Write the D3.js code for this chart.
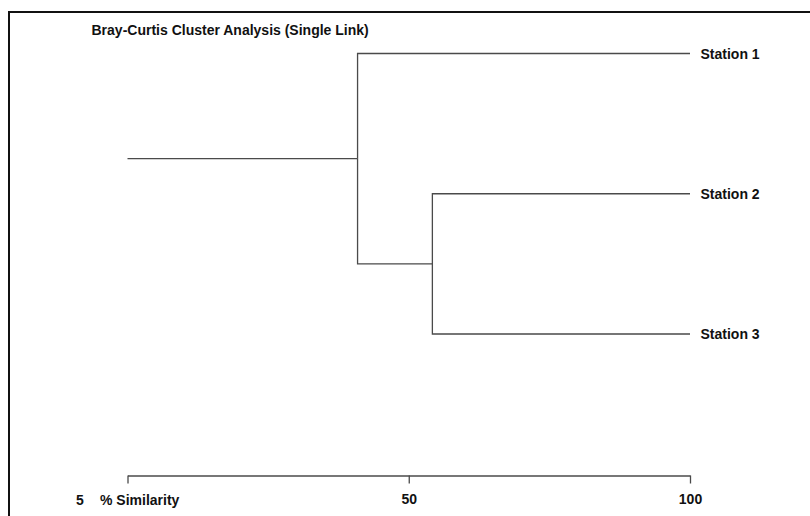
<!DOCTYPE html>
<html>
<head>
<meta charset="utf-8">
<script src="https://cdn.jsdelivr.net/npm/d3@7"></script>
<style>
  body { margin: 0; background: #fff; }
  text { font-family: "Liberation Sans", Arial, sans-serif; font-weight: bold; fill: #111; }
</style>
</head>
<body>
<svg></svg>
<script>
// leaves, top to bottom
let stations = ['Station 1', 'Station 2', 'Station 3']
// merges in order: which two groups join, and at what % similarity
let mergeLeft = ['Station 2', 'Station 1']
let mergeRight = ['Station 3', 'Station 2+Station 3']
let mergeSimilarity = [54.2, 40.9]
let rootSimilarity = 0
let tickValues = [0, 50, 100]

let width = 810
let height = 516

let svg = d3.select('svg')
    .attr('width', width)
    .attr('height', height)

// frame
svg.append('rect')
    .attr('x', 9)
    .attr('y', 12)
    .attr('width', width)
    .attr('height', height)
    .attr('fill', 'none')
    .attr('stroke', '#111')
    .attr('stroke-width', 2)

let xScale = d3.scaleLinear()
    .domain([0, 100])
    .range([127.5, 690])

let yScale = d3.scalePoint()
    .domain(stations)
    .range([53.5, 334])

// build the tree from the merge arrays
let nodes = {}
stations.forEach((s) => {
    nodes[s] = { name: s, similarity: 100 }
})
mergeSimilarity.forEach((sim, i) => {
    let name = mergeLeft[i] + '+' + mergeRight[i]
    nodes[name] = { name: name, similarity: sim, children: [nodes[mergeLeft[i]], nodes[mergeRight[i]]] }
})
let topName = mergeLeft[mergeLeft.length - 1] + '+' + mergeRight[mergeRight.length - 1]
let root = d3.hierarchy(nodes[topName])

// leaf y from the point scale, parents in the middle of their children
root.eachAfter((d) => {
    d.x = xScale(d.data.similarity)
    d.y = d.children ? d3.mean(d.children, (c) => c.y) : yScale(d.data.name)
})

let lineColor = '#4a4a4a'

// elbow links
svg.append('g')
    .selectAll('path')
    .data(root.links())
    .enter()
    .append('path')
    .attr('d', (l) => 'M' + l.source.x + ',' + l.source.y + 'V' + l.target.y + 'H' + l.target.x)
    .attr('fill', 'none')
    .attr('stroke', lineColor)
    .attr('stroke-width', 1.3)

// stem from the root
svg.append('line')
    .attr('x1', xScale(rootSimilarity))
    .attr('x2', root.x)
    .attr('y1', root.y)
    .attr('y2', root.y)
    .attr('stroke', lineColor)
    .attr('stroke-width', 1.3)

// leaf labels
svg.append('g')
    .selectAll('text')
    .data(root.leaves())
    .enter()
    .append('text')
    .attr('x', (d) => d.x + 10.5)
    .attr('y', (d) => d.y + 5)
    .attr('font-size', 14)
    .text((d) => d.data.name)

// title
svg.append('text')
    .attr('x', 91.5)
    .attr('y', 34.5)
    .attr('font-size', 14)
    .text('Bray-Curtis Cluster Analysis (Single Link)')

// similarity axis
let xAxis = d3.axisBottom(xScale)
    .tickValues(tickValues)
    .tickSize(8)
    .tickSizeOuter(0)
    .tickPadding(11)
    .tickFormat((v) => v === 0 ? '' : v)

let axisG = svg.append('g')
    .attr('transform', 'translate(0,475.5)')
    .call(xAxis)

axisG.select('.domain').attr('stroke', lineColor).attr('stroke-width', 1.3)
axisG.selectAll('.tick line').attr('stroke', lineColor).attr('stroke-width', 1.3)
axisG.selectAll('.tick text')
    .attr('font-family', '"Liberation Sans", Arial, sans-serif')
    .attr('font-weight', 'bold')
    .attr('font-size', 14)
    .attr('fill', '#111')

svg.append('text')
    .attr('x', 80)
    .attr('y', 504.5)
    .attr('text-anchor', 'middle')
    .attr('font-size', 14)
    .text('5')

svg.append('text')
    .attr('x', 100)
    .attr('y', 504.5)
    .attr('font-size', 14)
    .text('% Similarity')
</script>
</body>
</html>
